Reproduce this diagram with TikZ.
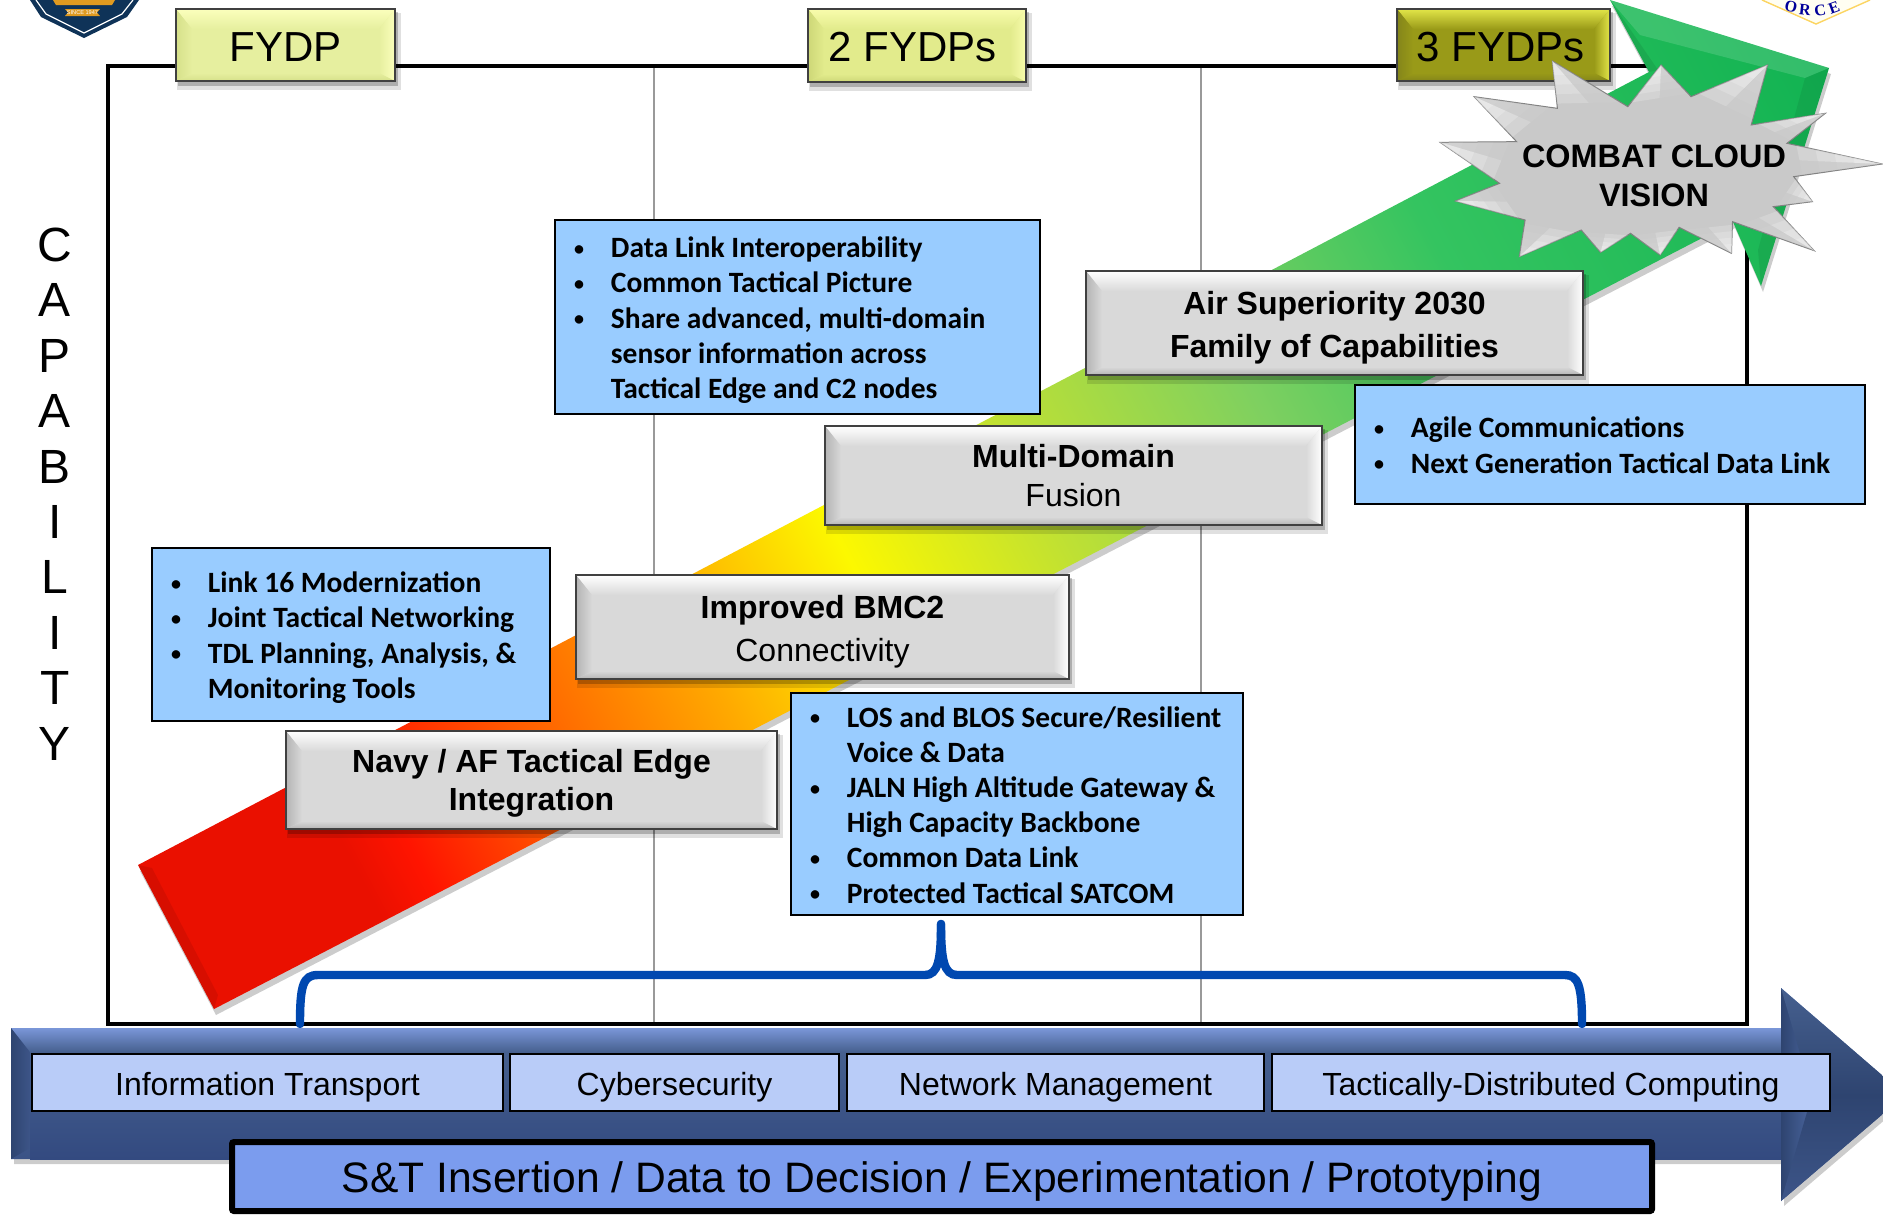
\documentclass[tikz,border=0pt]{standalone}
\usepackage{fontspec}
\setmainfont{Liberation Sans}
\newfontfamily\calfont{Carlito}
\newfontfamily\serfont{Liberation Serif}
\usetikzlibrary{calc}
\definecolor{gA}{HTML}{EA1000}\definecolor{gB}{HTML}{FF1400}\definecolor{gC}{HTML}{FF5A00}
\definecolor{gD}{HTML}{FFAA00}\definecolor{gE}{HTML}{FCF800}\definecolor{gF}{HTML}{BEE034}
\definecolor{gG}{HTML}{7ED060}\definecolor{gH}{HTML}{34C460}\definecolor{gI}{HTML}{0CB050}
\pgfdeclarehorizontalshading{capgrad}{100bp}{
 color(0bp)=(gA); color(25bp)=(gA); color(27bp)=(gB);
 color(32bp)=(gC); color(39bp)=(gD);
 color(45bp)=(gE); color(52bp)=(gF);
 color(60bp)=(gG); color(68bp)=(gH);
 color(85bp)=(gI); color(100bp)=(gI)}
\definecolor{infoblue}{HTML}{99CCFF}
\definecolor{bandbox}{HTML}{B9CCF8}
\definecolor{stbox}{HTML}{7B9CEE}
\definecolor{bracketblue}{HTML}{0048B0}
\definecolor{navyshield}{HTML}{0F3358}
\definecolor{goldband}{HTML}{E09A20}
\definecolor{fyA}{HTML}{E6EF9F}\definecolor{fyAl}{HTML}{FBFFBC}\definecolor{fyAd}{HTML}{D6E08A}
\definecolor{fyB}{HTML}{E2EB8C}\definecolor{fyBl}{HTML}{F8FCAC}\definecolor{fyBd}{HTML}{CDD777}
\definecolor{fyC}{HTML}{999A18}\definecolor{fyCl}{HTML}{E2E548}\definecolor{fyCd}{HTML}{84851A}
\definecolor{grayA}{HTML}{D9D9D9}\definecolor{grayAl}{HTML}{FFFFFF}\definecolor{grayAd}{HTML}{B4B4B4}
\definecolor{steelT}{HTML}{7A96D8}\definecolor{steelM}{HTML}{46608F}\definecolor{steelB}{HTML}{334A80}
\definecolor{steelD}{HTML}{2E4470}\definecolor{steelN}{HTML}{3D5588}\definecolor{steelL}{HTML}{4A659D}
\tikzset{
 x=0.5pt,y=-0.5pt,
 framestyle/.style={draw=black,line width=2pt},
 gridstyle/.style={draw=black!40,line width=0.8pt},
 infostyle/.style={draw=black,line width=1pt,fill=infoblue,outer sep=0pt,inner ysep=0pt,inner xsep=9.5pt,align=left},
 bevellabel/.style={draw=black!75,line width=1.2pt,outer sep=0pt,inner sep=0pt,align=center},
 bandstyle/.style={draw=black,line width=1pt,fill=bandbox,outer sep=0pt,inner sep=0pt,font=\fontsize{16}{19}\selectfont},
 bracestyle/.style={draw=bracketblue,line width=4.2pt,line cap=round},
}
% bevel box: name, x1,y1,x2,y2, base, light, dark, label text
\newcommand{\bevelbox}[9]{%
 \pgfmathsetmacro\bx{(#2+#4)/2}\pgfmathsetmacro\by{(#3+#5)/2}%
 \pgfmathsetmacro\bw{(#4-#2)*.5}\pgfmathsetmacro\bh{(#5-#3)*.5}%
 \fill[black,opacity=.12] (#2+1,#3+4) rectangle (#4+6,#5+9);
 \fill[black,opacity=.22] (#2+2,#3+3) rectangle (#4+3,#5+5);
 \fill[#6] (#2,#3) rectangle (#4,#5);
 \path[top color=#7,bottom color=#6] (#2,#3) -- (#4,#3) -- (#4-16,#3+20) -- (#2+16,#3+20) -- cycle;
 \path[left color=#8,right color=#6] (#2,#3) -- (#2+16,#3+20) -- (#2+16,#5-8) -- (#2,#5) -- cycle;
 \path[right color=#7,left color=#6] (#4,#3) -- (#4-16,#3+20) -- (#4-16,#5-8) -- (#4,#5) -- cycle;
 \path[bottom color=#8,top color=#6] (#2,#5) -- (#4,#5) -- (#4-16,#5-8) -- (#2+16,#5-8) -- cycle;
 \node[bevellabel,minimum width=\bw pt,minimum height=\bh pt] (#1) at (\bx,\by) {#9};
}
\newcommand{\bu}{\raisebox{1.2pt}{\fontsize{10}{10}\selectfont •}}
\newcommand{\infobox}[6]{%
 \pgfmathsetmacro\bx{(#2+#4)/2}\pgfmathsetmacro\by{(#3+#5)/2}%
 \pgfmathsetmacro\bw{(#4-#2)*.5}\pgfmathsetmacro\bh{(#5-#3)*.5}%
 \node[infostyle,text width=\bw pt-19pt,minimum height=\bh pt] (#1) at (\bx,\by)
 {\calfont\bfseries\fontsize{14.75}{17.6}\selectfont
  \raisebox{-2pt}[\height][\depth]{\begin{tabular}{@{}l@{\hspace{13.5pt}}l@{}}#6\end{tabular}}};
}
\newcommand{\bandbox}[6]{%
 \pgfmathsetmacro\bx{(#2+#4)/2}\pgfmathsetmacro\by{(#3+#5)/2}%
 \pgfmathsetmacro\bw{(#4-#2)*.5}\pgfmathsetmacro\bh{(#5-#3)*.5}%
 \node[bandstyle,minimum width=\bw pt,minimum height=\bh pt] (#1) at (\bx,\by) {\raisebox{-2.4pt}[\height][\depth]{#6}};
}
\newcommand{\twol}[3]{\fontsize{16}{#1}\selectfont\raisebox{-2pt}[\height][\depth]{\begin{tabular}{@{}c@{}}#2\\ #3\end{tabular}}}
\newcommand{\yrl}[1]{\fontsize{21}{25}\selectfont\raisebox{-1pt}[\height][\depth]{#1}}
\begin{document}
\begin{tikzpicture}
\clip (0,0) rectangle (1883,1217);
\fill[white] (0,0) rectangle (1883,1217);

% logos cut by the top edge
\fill[navyshield] (30,0) -- (41,17) -- (84,38) -- (127,17) -- (139,0) -- cycle;
\draw[white,line width=.6pt] (36,0) -- (46,14) -- (84,33) -- (122,14) -- (133,0);
\fill[goldband] (65,9) -- (100,9) -- (97,12.5) -- (100,16) -- (65,16) -- (68,12.5) -- cycle;
\fill[goldband] (53,0) -- (115,0) -- (112,5) -- (56,5) -- cycle;
\node[text=white,font=\fontsize{2.8}{3}\selectfont,inner sep=0pt] at (82.5,12.5) {SINCE 1947};
\fill[yellow!5] (1762,0) -- (1816,24) -- (1870,0) -- cycle;
\draw[yellow!50!orange!60,line width=.7pt] (1762,0) -- (1816,24) -- (1870,0);
\foreach \ch/\cx/\cy/\ca in {O/1791/7/-12,R/1805/10/-6,C/1820/11/8,E/1834/8/20}
  \node[text=blue!60!black,font=\serfont\bfseries\fontsize{8}{9}\selectfont,inner sep=0pt,rotate=\ca] at (\cx,\cy) {\ch};

% frame and grid
\draw[gridstyle] (654,66) -- (654,1024);
\draw[gridstyle] (1201,66) -- (1201,1024);
\draw[framestyle] (108,66) rectangle (1747,1024);

% capability arrow
\coordinate (tailT) at (138,865);
\coordinate (tailB) at (214,1009);
\coordinate (shaftT) at (1649,72);
\coordinate (shaftB) at (1733,222);
\coordinate (headA) at (1610,0);
\coordinate (headB) at (1829,68);
\coordinate (headC) at (1761,286);
\fill[black,opacity=.2] ($(tailT)+(2,6)$) -- ($(tailB)+(2,6)$) -- ($(shaftB)+(2,6)$) -- ($(headC)+(2,6)$) -- ($(headB)+(2,6)$) -- ($(headA)+(2,6)$) -- ($(shaftT)+(2,6)$) -- cycle;
\path[shading=capgrad,shading angle=28] (tailT) -- (tailB) -- (shaftB) -- (headC) -- (headB) -- (headA) -- (shaftT) -- cycle;
\fill[black,opacity=.08] (headA) -- (shaftT) -- (1658,70) -- cycle;
\fill[white,opacity=.14] (headA) -- (headB) -- (1805,78) -- (1640,35) -- cycle;
\fill[black,opacity=.07] (headB) -- (headC) -- (1758,250) -- (1805,78) -- cycle;
\fill[black,opacity=.08] (tailT) -- (tailB) -- (218,995) -- (152,868) -- cycle;

% year labels
\bevelbox{fy1}{176}{9}{395}{81}{fyA}{fyAl}{fyAd}{\yrl{FYDP}}
\bevelbox{fy2}{808}{9}{1026}{82}{fyB}{fyBl}{fyBd}{\yrl{2 FYDPs\hspace*{4pt}}}
\bevelbox{fy3}{1397}{9}{1610}{81}{fyC}{fyCl}{fyCd}{\yrl{3 FYDPs\hspace*{3pt}}}

% combat cloud star
\begin{scope}[shift={(1350,0)},xscale=.34,yscale=.3333]
\path[fill=black!21,draw=black!50,line width=.5pt]
 (915,195)--(1003,290)--(1228,195)--(1180,375)--(1398,340)--(1285,430)--(1565,492)--(1305,530)--(1360,605)--(1245,620)--(1365,752)--(1125,665)--(1122,760)--(968,682)--(912,765)--(825,700)--(737,757)--(680,690)--(498,770)--(515,660)--(310,603)--(440,550)--(265,427)--(490,425)--(365,290)--(610,325)--(595,183)--(817,320)--cycle;
\foreach \ax/\ay/\tx/\ty/\qx/\qy in {
 817/320/915/195/1003/290, 1003/290/1228/195/1180/375, 1180/375/1398/340/1285/430,
 1285/430/1565/492/1305/530, 1305/530/1360/605/1245/620, 1245/620/1365/752/1125/665,
 1125/665/1122/760/968/682, 968/682/912/765/825/700, 825/700/737/757/680/690,
 680/690/498/770/515/660, 515/660/310/603/440/550, 440/550/265/427/490/425,
 490/425/365/290/610/325, 610/325/595/183/817/320}{
  \coordinate (sT) at (\tx,\ty);
  \coordinate (sA) at (\ax,\ay);
  \coordinate (sB) at (\qx,\qy);
  \coordinate (sM) at ($(sA)!.5!(sB)$);
  \foreach \s in {.9,.7,.5,.3}{
    \fill[white,opacity=.2] (sT) -- ($(sT)!\s!(sA)$) -- ($(sT)!\s!(sM)$) -- cycle;
    \fill[white,opacity=.05] (sT) -- ($(sT)!\s!(sB)$) -- ($(sT)!\s!(sM)$) -- cycle;
  }
}
\end{scope}
\node[font=\bfseries\fontsize{16.2}{19.2}\selectfont,align=center,inner sep=0pt] (vision) at (1654,176) {COMBAT CLOUD\\VISION};

% info boxes
\infobox{linkbox}{152}{548}{550}{721}{%
 \bu&Link 16 Modernization\\ \bu&Joint Tactical Networking\\ \bu&TDL Planning, Analysis, \&\\ &Monitoring Tools}
\infobox{databox}{555}{220}{1040}{414}{%
 \bu&Data Link Interoperability\\ \bu&Common Tactical Picture\\ \bu&Share advanced, multi-domain\\ &sensor information across\\ &Tactical Edge and C2 nodes}
\infobox{agilebox}{1355}{385}{1865}{504}{%
 \bu&Agile Communications\\ \bu&Next Generation Tactical Data Link}

% capability boxes
\bevelbox{airbox}{1086}{271}{1583}{375}{grayA}{grayAl}{grayAd}{\twol{21.6}{\textbf{Air Superiority 2030}}{\textbf{Family of Capabilities}}}
\bevelbox{multibox}{825}{426}{1322}{525}{grayA}{grayAl}{grayAd}{\twol{19.2}{\textbf{Multi-Domain}}{Fusion}}
\bevelbox{bmcbox}{576}{575}{1069}{679}{grayA}{grayAl}{grayAd}{\twol{21.6}{\textbf{Improved BMC2}}{Connectivity}}
\bevelbox{navybox}{286}{731}{777}{829}{grayA}{grayAl}{grayAd}{\twol{19.2}{\textbf{Navy / AF Tactical Edge}}{\textbf{Integration}}}

\infobox{losbox}{791}{693}{1243}{915}{%
 \bu&LOS and BLOS Secure/Resilient\\ &Voice \& Data\\ \bu&JALN High Altitude Gateway \&\\ &High Capacity Backbone\\ \bu&Common Data Link\\ \bu&Protected Tactical SATCOM}

% bracket
\coordinate (brL) at (300,1024);
\coordinate (brR) at (1582,1024);
\coordinate (brM) at (941,924);
\draw[bracestyle] (brL) .. controls (300,985) and (303,975) .. (318,975) -- (925,975) .. controls (938,975) and (941,960) .. (brM);
\draw[bracestyle] (brM) .. controls (941,960) and (944,975) .. (957,975) -- (1565,975) .. controls (1578,975) and (1582,985) .. (brR);

% bottom arrow
\coordinate (bA) at (11,1028);
\coordinate (bB) at (1781,1028);
\coordinate (bC) at (1781,988);
\coordinate (bD) at (1905,1095);
\coordinate (bE) at (1781,1201);
\coordinate (bF) at (1781,1159);
\coordinate (bG) at (11,1159);
\fill[black,opacity=.2] ($(bA)+(3,5)$) -- ($(bB)+(3,5)$) -- ($(bC)+(3,5)$) -- ($(bD)+(3,5)$) -- ($(bE)+(3,5)$) -- ($(bF)+(3,5)$) -- ($(bG)+(3,5)$) -- cycle;
\path[top color=steelT,bottom color=steelB,middle color=steelM] (bA) -- (bB) -- (bC) -- (bD) -- (bE) -- (bF) -- (bG) -- cycle;
\path[top color=steelT,bottom color=steelM] (bA) -- (bB) -- (1800,1052) -- (30,1052) -- cycle;
\path[left color=steelD,right color=steelN] (bA) -- (30,1052) -- (30,1148) -- (bG) -- cycle;
\path[top color=steelM,bottom color=steelB] (30,1052) -- (1800,1052) -- (1800,1159) -- (30,1159) -- cycle;
\path[left color=steelD,right color=steelL] (bC) -- (1812,1045) -- (1812,1145) -- (bE) -- cycle;
\path[top color=steelM,bottom color=steelD] (bC) -- (bD) -- (1812,1095) -- cycle;
\path[top color=steelD,bottom color=steelN] (bE) -- (bD) -- (1812,1095) -- cycle;

\bandbox{bandA}{32}{1054}{503}{1111}{Information Transport}
\bandbox{bandB}{510}{1054}{839}{1111}{Cybersecurity}
\bandbox{bandC}{847}{1054}{1264}{1111}{Network Management}
\bandbox{bandD}{1272}{1054}{1830}{1111}{Tactically-Distributed Computing}

\node[draw=black,line width=3pt,fill=stbox,rounded corners=1pt,outer sep=0pt,inner sep=0pt,minimum width=710pt,minimum height=34.5pt,font=\fontsize{21.3}{26}\selectfont] (stbar) at (942,1176.5) {\raisebox{-2.4pt}[\height][\depth]{S\&T Insertion / Data to Decision / Experimentation / Prototyping}};

% vertical label
\node[font=\fontsize{24}{27.7}\selectfont,align=center,inner sep=0pt] (cap) at (55,494) {C\\A\\P\\A\\B\\I\\L\\I\\T\\Y};
\end{tikzpicture}
\end{document}
